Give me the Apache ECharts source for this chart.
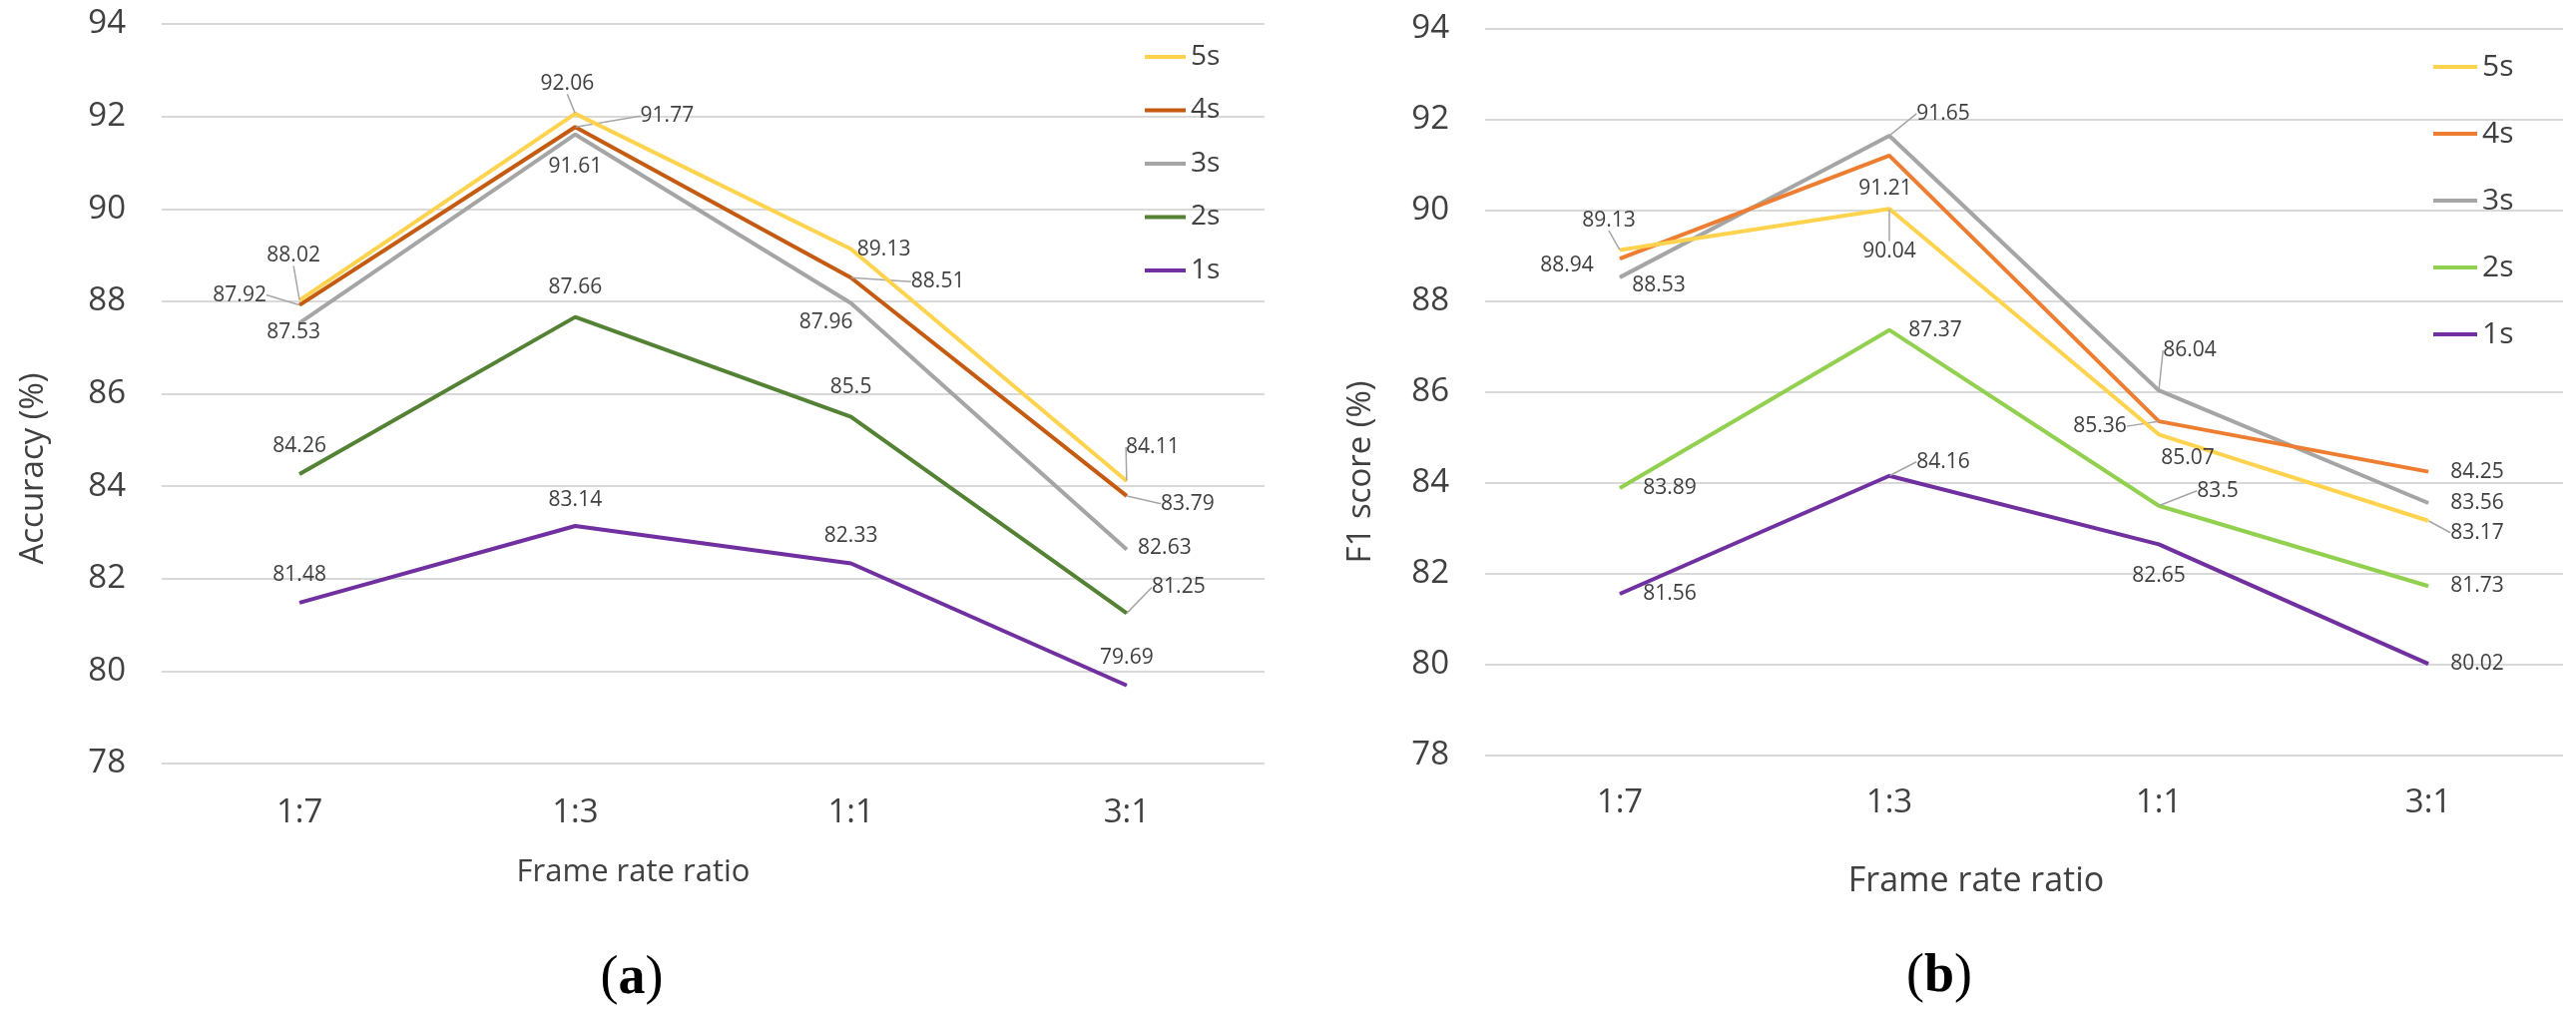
<!DOCTYPE html>
<html>
<head>
<meta charset="utf-8">
<script src="https://cdn.jsdelivr.net/npm/echarts@6/dist/echarts.min.js"></script>
<style>
  html, body { margin: 0; padding: 0; background: #fff; }
  #wrap { position: relative; width: 2581px; height: 1027px; }
  #ca { position: absolute; left: 0; top: 0; width: 1290px; height: 1027px; }
  #cb { position: absolute; left: 1290px; top: 0; width: 1291px; height: 1027px; }
</style>
</head>
<body>
<div id="wrap"><div id="ca"></div><div id="cb"></div></div>
<script>
// ---- data ----
const categories = ['1:7', '1:3', '1:1', '3:1'];
const seriesNames = ['5s', '4s', '3s', '2s', '1s'];
const yTicks = { min: 78, max: 94, step: 2 };

// (a) Accuracy (%)
const accuracy5s = [88.02, 92.06, 89.13, 84.11];
const accuracy4s = [87.92, 91.77, 88.51, 83.79];
const accuracy3s = [87.53, 91.61, 87.96, 82.63];
const accuracy2s = [84.26, 87.66, 85.5, 81.25];
const accuracy1s = [81.48, 83.14, 82.33, 79.69];

// (b) F1 score (%)
const f1_5s = [89.13, 90.04, 85.07, 83.17];
const f1_4s = [88.94, 91.21, 85.36, 84.25];
const f1_3s = [88.53, 91.65, 86.04, 83.56];
const f1_2s = [83.89, 87.37, 83.5, 81.73];
const f1_1s = [81.56, 84.16, 82.65, 80.02];

// ---- styling / label layout (not data) ----
const colorsA = ['#FFD34E', '#C55A11', '#A5A5A5', '#548235', '#7030A0'];
const colorsB = ['#FFD34E', '#ED7D31', '#A5A5A5', '#92D050', '#7030A0'];

// label centre offsets [dx, dy, leader]
const labelOffA = [
  [[-6, -45, 1], [-8, -30, 1], [33, 0, 0], [26, -34, 1]],
  [[-60, -10, 1], [92, -11, 1], [87, 4, 1], [61, 8, 1]],
  [[-6, 9, 0], [0, 32, 0], [-25, 19, 0], [38, -2, 0]],
  [[0, -28, 0], [0, -30, 0], [0, -30, 0], [52, -26, 1]],
  [[0, -28, 0], [0, -26, 0], [0, -27, 0], [0, -28, 0]]
];
const labelOffB = [
  [[-11, -30, 1], [0, 43, 1], [29, 24, 0], [49, 12, 1]],
  [[-53, 7, 0], [-4, 33, 0], [-59, 5, 1], [49, 0, 0]],
  [[39, 8, 0], [54, -22, 1], [31, -40, 1], [49, 0, 0]],
  [[50, 0, 0], [46, 0, 0], [59, -15, 1], [49, 0, 0]],
  [[50, 0, 0], [54, -14, 1], [0, 32, 0], [49, 0, 0]]
];

const FONT = '"Open Sans", "Noto Sans", sans-serif';
const TXT = '#404040';

function buildOption(cfg) {
  const series = cfg.values.map((vals, s) => ({
    name: seriesNames[s],
    type: 'line',
    data: vals.map((v, i) => ({ value: v, labelLine: { show: !!cfg.offsets[s][i][2] } })),
    symbol: 'circle',
    symbolSize: 1,
    showSymbol: true,
    lineStyle: { color: cfg.colors[s], width: 4 },
    itemStyle: { color: cfg.colors[s] },
    emphasis: { disabled: true },
    label: {
      show: true,
      position: 'inside',
      fontFamily: FONT,
      fontSize: 21,
      color: TXT,
      textBorderWidth: 0,
      formatter: p => String(p.value)
    },
    labelLine: { show: false, lineStyle: { color: '#A6A6A6', width: 1.5 } },
    labelLayout: p => {
      const o = cfg.offsets[p.seriesIndex][p.dataIndex];
      return { dx: o[0], dy: o[1] };
    },
    z: 10 - s
  }));
  return {
    animation: false,
    backgroundColor: '#fff',
    textStyle: { fontFamily: FONT },
    grid: cfg.grid,
    legend: Object.assign({
      orient: 'vertical',
      icon: 'rect',
      data: seriesNames,
      selectedMode: false,
      textStyle: { fontFamily: FONT, color: TXT }
    }, cfg.legend),
    xAxis: {
      type: 'category',
      data: categories,
      boundaryGap: true,
      axisLine: { show: false },
      axisTick: { show: false },
      axisLabel: { fontFamily: FONT, fontSize: cfg.tickFont, color: TXT, margin: cfg.xMargin },
      name: 'Frame rate ratio',
      nameLocation: 'middle',
      nameGap: cfg.xNameGap,
      nameTextStyle: { fontFamily: FONT, fontSize: cfg.xNameFont, color: TXT, padding: [0, cfg.xNameShift, 0, 0] }
    },
    yAxis: {
      type: 'value',
      min: yTicks.min,
      max: yTicks.max,
      interval: yTicks.step,
      axisLine: { show: false },
      axisTick: { show: false },
      splitLine: { lineStyle: { color: '#D9D9D9', width: 2 } },
      axisLabel: { fontFamily: FONT, fontSize: cfg.tickFont, color: TXT, margin: 36 },
      name: cfg.yName,
      nameLocation: 'middle',
      nameRotate: 90,
      nameGap: cfg.yNameGap,
      nameTextStyle: { fontFamily: FONT, fontSize: 33, color: TXT, padding: [0, cfg.yNameShift, 0, 0] }
    },
    graphic: [{
      type: 'text',
      x: cfg.tag.x,
      y: cfg.tag.y,
      style: {
        text: '{p|(}{b|' + cfg.tag.t + '}{p|)}',
        align: 'center',
        verticalAlign: 'middle',
        rich: {
          p: { fontFamily: '"Liberation Serif", "DejaVu Serif", serif', fontSize: 54, fill: '#000' },
          b: { fontFamily: '"Liberation Serif", "DejaVu Serif", serif', fontSize: 54, fontWeight: 'bold', fill: '#000' }
        }
      }
    }],
    series: series
  };
}

const chartA = echarts.init(document.getElementById('ca'));
chartA.setOption(buildOption({
  values: [accuracy5s, accuracy4s, accuracy3s, accuracy2s, accuracy1s],
  colors: colorsA,
  offsets: labelOffA,
  grid: { left: 162, right: 23, top: 24, bottom: 262 },
  legend: { left: 1142, top: 37, itemWidth: 41, itemHeight: 4, itemGap: 23.5,
            textStyle: { fontFamily: FONT, color: TXT, fontSize: 28, lineHeight: 30 } },
  tickFont: 33, xMargin: 33,
  xNameGap: 94, xNameFont: 31, xNameShift: 160,
  yName: 'Accuracy (%)', yNameGap: 112, yNameShift: 150,
  tag: { x: 633, y: 981, t: 'a' }
}));

const chartB = echarts.init(document.getElementById('cb'));
chartB.setOption(buildOption({
  values: [f1_5s, f1_4s, f1_3s, f1_2s, f1_1s],
  colors: colorsB,
  offsets: labelOffB,
  grid: { left: 198, right: 13, top: 29, bottom: 270 },
  legend: { left: 1143, top: 46, itemWidth: 44, itemHeight: 4, itemGap: 35,
            textStyle: { fontFamily: FONT, color: TXT, fontSize: 30, lineHeight: 32 } },
  tickFont: 33, xMargin: 31,
  xNameGap: 109, xNameFont: 34, xNameShift: 96,
  yName: 'F1 score (%)', yNameGap: 108, yNameShift: 160,
  tag: { x: 653, y: 979, t: 'b' }
}));
</script>
</body>
</html>
